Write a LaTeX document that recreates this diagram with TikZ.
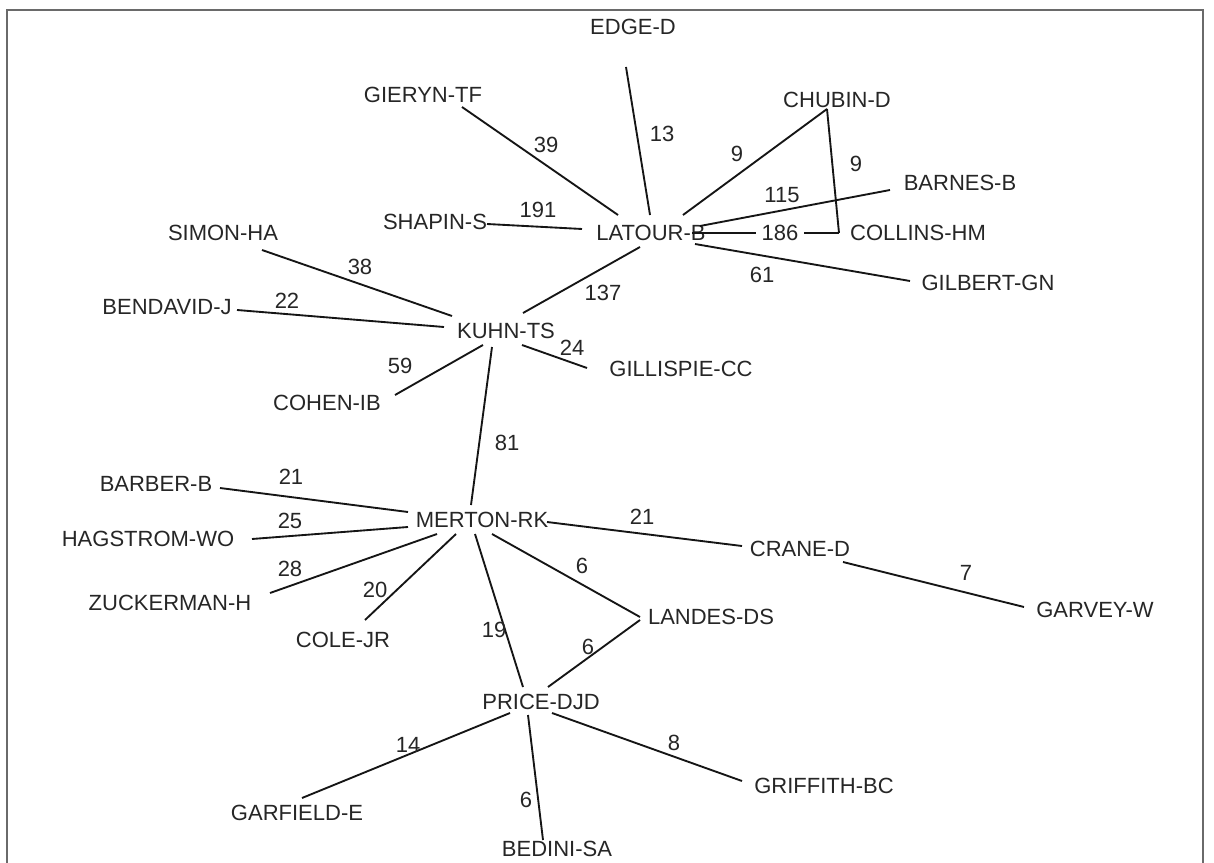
\documentclass[tikz,border=0pt]{standalone}
\usepackage{fontspec}
\setmainfont{Liberation Sans}
\usetikzlibrary{calc}
\definecolor{txt}{HTML}{262626}
\definecolor{ln}{HTML}{151515}
\definecolor{frm}{HTML}{6A6A6A}
\tikzset{
  au/.style={inner sep=0pt, text height=11.8pt, text depth=0pt, text=txt, font=\fontsize{16.5}{18}\selectfont},
  wt/.style={au},
  link/.style={draw=ln, line width=1.4pt},
}
\begin{document}
\begin{tikzpicture}[x=0.75pt,y=-0.75pt]
\useasboundingbox (0,0) rectangle (1214,863);
\fill[white] (0,0) rectangle (1214,863);
\draw[frm, line width=1.5pt] (7,863) -- (7,10) -- (1203,10) -- (1203,863);

% authors
\node[au] (edge) at (633,27) {EDGE-D};
\node[au] (gieryn) at (423,95) {GIERYN-TF};
\node[au] (chubin) at (837,100) {CHUBIN-D};
\node[au] (barnes) at (960,183) {BARNES-B};
\node[au] (shapin) at (435,222) {SHAPIN-S};
\node[au] (latour) at (651,233) {LATOUR-B};
\node[au] (collins) at (918,233) {COLLINS-HM};
\node[au] (simon) at (223,233) {SIMON-HA};
\node[au] (gilbert) at (988,283) {GILBERT-GN};
\node[au] (bendavid) at (167,307) {BENDAVID-J};
\node[au] (kuhn) at (506,331) {KUHN-TS};
\node[au] (gillispie) at (681,369) {GILLISPIE-CC};
\node[au] (cohen) at (327,403) {COHEN-IB};
\node[au] (barber) at (156,484) {BARBER-B};
\node[au] (merton) at (482,520) {MERTON-RK};
\node[au] (hagstrom) at (148,539) {HAGSTROM-WO};
\node[au] (crane) at (800,549) {CRANE-D};
\node[au] (zuckerman) at (170,603) {ZUCKERMAN-H};
\node[au] (landes) at (711,617) {LANDES-DS};
\node[au] (garvey) at (1095,610) {GARVEY-W};
\node[au] (cole) at (343,640) {COLE-JR};
\node[au] (price) at (541,702) {PRICE-DJD};
\node[au] (griffith) at (824,786) {GRIFFITH-BC};
\node[au] (garfield) at (297,813) {GARFIELD-E};
\node[au] (bedini) at (557,849) {BEDINI-SA};

% links
\draw[link] ($(gieryn)+(39,12)$) -- ($(latour)+(-33,-18)$);
\draw[link] ($(edge)+(-7,40)$) -- ($(latour)+(-1,-18)$);
\draw[link] ($(chubin)+(-10,9)$) -- ($(latour)+(32,-18)$);
\draw[link] ($(chubin)+(-10,9)$) -- ($(collins)+(-79,0)$);
\draw[link] ($(barnes)+(-70,7)$) -- ($(latour)+(49,-7)$);
\draw[link] ($(latour)+(41,0)$) -- ($(collins)+(-79,0)$);
\draw[link] ($(latour)+(44,11)$) -- ($(gilbert)+(-78,-2)$);
\draw[link] ($(shapin)+(52,2)$) -- ($(latour)+(-69,-4)$);
\draw[link] ($(kuhn)+(17,-18)$) -- ($(latour)+(-11,14)$);
\draw[link] ($(simon)+(39,17)$) -- ($(kuhn)+(-54,-15)$);
\draw[link] ($(bendavid)+(70,3)$) -- ($(kuhn)+(-62,-4)$);
\draw[link] ($(kuhn)+(16,14)$) -- ($(gillispie)+(-94,-1)$);
\draw[link] ($(cohen)+(68,-8)$) -- ($(kuhn)+(-23,14)$);
\draw[link] ($(kuhn)+(-14,16)$) -- ($(merton)+(-11,-15)$);
\draw[link] ($(barber)+(64,4)$) -- ($(merton)+(-74,-8)$);
\draw[link] ($(hagstrom)+(104,0)$) -- ($(merton)+(-74,7)$);
\draw[link] ($(zuckerman)+(100,-10)$) -- ($(merton)+(-45,14)$);
\draw[link] ($(cole)+(22,-20)$) -- ($(merton)+(-26,14)$);
\draw[link] ($(merton)+(65,2)$) -- ($(crane)+(-58,-3)$);
\draw[link] ($(merton)+(10,14)$) -- ($(landes)+(-71,0)$);
\draw[link] ($(crane)+(43,13)$) -- ($(garvey)+(-71,-3)$);
\draw[link] ($(merton)+(-7,14)$) -- ($(price)+(-18,-15)$);
\draw[link] ($(landes)+(-71,3)$) -- ($(price)+(7,-15)$);
\draw[link] ($(price)+(-31,11)$) -- ($(garfield)+(5,-15)$);
\draw[link] ($(price)+(-13,13)$) -- ($(bedini)+(-14,-9)$);
\draw[link] ($(price)+(11,11)$) -- ($(griffith)+(-82,-5)$);

% weights
\node[wt] (w39) at (546,145) {39};
\node[wt] (w13) at (662,134) {13};
\node[wt] (w9a) at (737,154) {9};
\node[wt] (w9b) at (856,164) {9};
\node[wt] (w115) at (782,195) {115};
\node[wt, fill=white, inner xsep=4pt] (w186) at (780,233) {186};
\node[wt] (w61) at (762,275) {61};
\node[wt] (w191) at (538,210) {191};
\node[wt] (w137) at (603,293) {137};
\node[wt] (w38) at (360,267) {38};
\node[wt] (w22) at (287,301) {22};
\node[wt] (w24) at (572,348) {24};
\node[wt] (w59) at (400,366) {59};
\node[wt] (w81) at (507,443) {81};
\node[wt] (w21a) at (291,477) {21};
\node[wt] (w25) at (290,521) {25};
\node[wt] (w28) at (290,569) {28};
\node[wt] (w20) at (375,590) {20};
\node[wt] (w21b) at (642,517) {21};
\node[wt] (w6a) at (582,566) {6};
\node[wt] (w7) at (966,573) {7};
\node[wt] (w19) at (494,630) {19};
\node[wt] (w6b) at (588,647) {6};
\node[wt] (w14) at (408,745) {14};
\node[wt] (w6c) at (526,800) {6};
\node[wt] (w8) at (674,743) {8};
\end{tikzpicture}
\end{document}
